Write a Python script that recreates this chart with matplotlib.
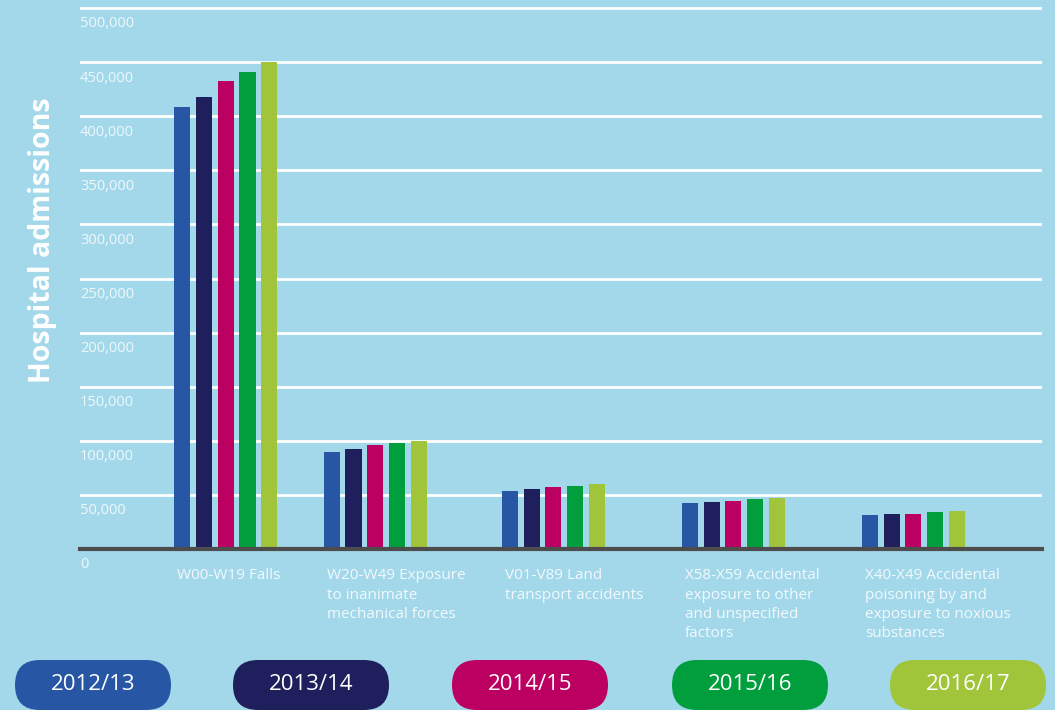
import matplotlib.pyplot as plt
from matplotlib.patches import FancyBboxPatch

categories = [
    "W00-W19 Falls",
    "W20-W49 Exposure\nto inanimate\nmechanical forces",
    "V01-V89 Land\ntransport accidents",
    "X58-X59 Accidental\nexposure to other\nand unspecified\nfactors",
    "X40-X49 Accidental\npoisoning by and\nexposure to noxious\nsubstances",
]
years = ["2012/13", "2013/14", "2014/15", "2015/16", "2016/17"]

adm_2012 = [409000, 90000, 53500, 42200, 31000]
adm_2013 = [418000, 92000, 55300, 43200, 31900]
adm_2014 = [432500, 95700, 57200, 44100, 32800]
adm_2015 = [441000, 97600, 58200, 46000, 33800]
adm_2016 = [450500, 99500, 60000, 46900, 34700]
series = [adm_2012, adm_2013, adm_2014, adm_2015, adm_2016]

y_ticks = [0, 50000, 100000, 150000, 200000, 250000, 300000, 350000, 400000, 450000, 500000]

colors = ["#2756a5", "#1f1f5e", "#bb0061", "#009e3d", "#a0c43a"]
bg = "#a3d8ea"

# layout (group centres in axis units, not data)
group_x = [0.81, 1.64, 2.63, 3.63, 4.63]
bar_w = 0.089
step = 0.1206

W, H = 1055, 710
fig = plt.figure(figsize=(W / 100, H / 100), dpi=100, facecolor=bg)

# pixel-space overlay for the legend pills
pax = fig.add_axes([0, 0, 1, 1])
pax.set_xlim(0, W)
pax.set_ylim(0, H)
pax.axis("off")

ax = fig.add_axes([80 / W, (H - 549) / H, (1042 - 80) / W, (549 - 6) / H])
ax.set_facecolor(bg)
ax.set_xlim(0, 962 / 180)
ax.set_ylim(0, 502000)

for t in y_ticks[1:]:
    ax.axhline(t, color="white", lw=2, zorder=1)

for i, vals in enumerate(series):
    xs = [g + (i - 2) * step for g in group_x]
    ax.bar(xs, vals, width=bar_w, color=colors[i], zorder=2)

ax.axhline(0, color="#4d4d4d", lw=3, zorder=3, clip_on=False)

for s in ax.spines.values():
    s.set_visible(False)
ax.set_xticks([])
ax.set_yticks([])

for t in y_ticks:
    ax.annotate(f"{t:,}", xy=(0, t), xycoords=("axes fraction", "data"),
                xytext=(0, -6), textcoords="offset points", ha="left", va="top",
                fontsize=10.5, color="#eef8fb", family="Open Sans")

for g, cat in zip(group_x, categories):
    ax.annotate(cat, xy=(g - 2 * step - bar_w / 2, 0), xycoords="data",
                xytext=(2, -14), textcoords="offset points", ha="left", va="top",
                fontsize=11, color="#f2f9fc", family="Open Sans", linespacing=1.38)

fig.text(43 / W, 1 - 240 / H, "Hospital admissions", rotation=90, ha="center", va="center",
         fontsize=20.5, fontweight="bold", color="white", family="Open Sans")

# legend pills (pixel coords, origin bottom-left)
pill_left = [15, 233, 452, 672, 890]
for x0, yr, c in zip(pill_left, years, colors):
    pill = FancyBboxPatch((x0, 0), 156, 50,
                          boxstyle="round,pad=0,rounding_size=25",
                          facecolor=c, edgecolor="none", clip_on=False)
    pax.add_patch(pill)
    pax.text(x0 + 78, 25, yr, ha="center", va="center",
             fontsize=16, color="white", family="Open Sans")

fig.savefig("out.png", dpi=100, facecolor=bg)
